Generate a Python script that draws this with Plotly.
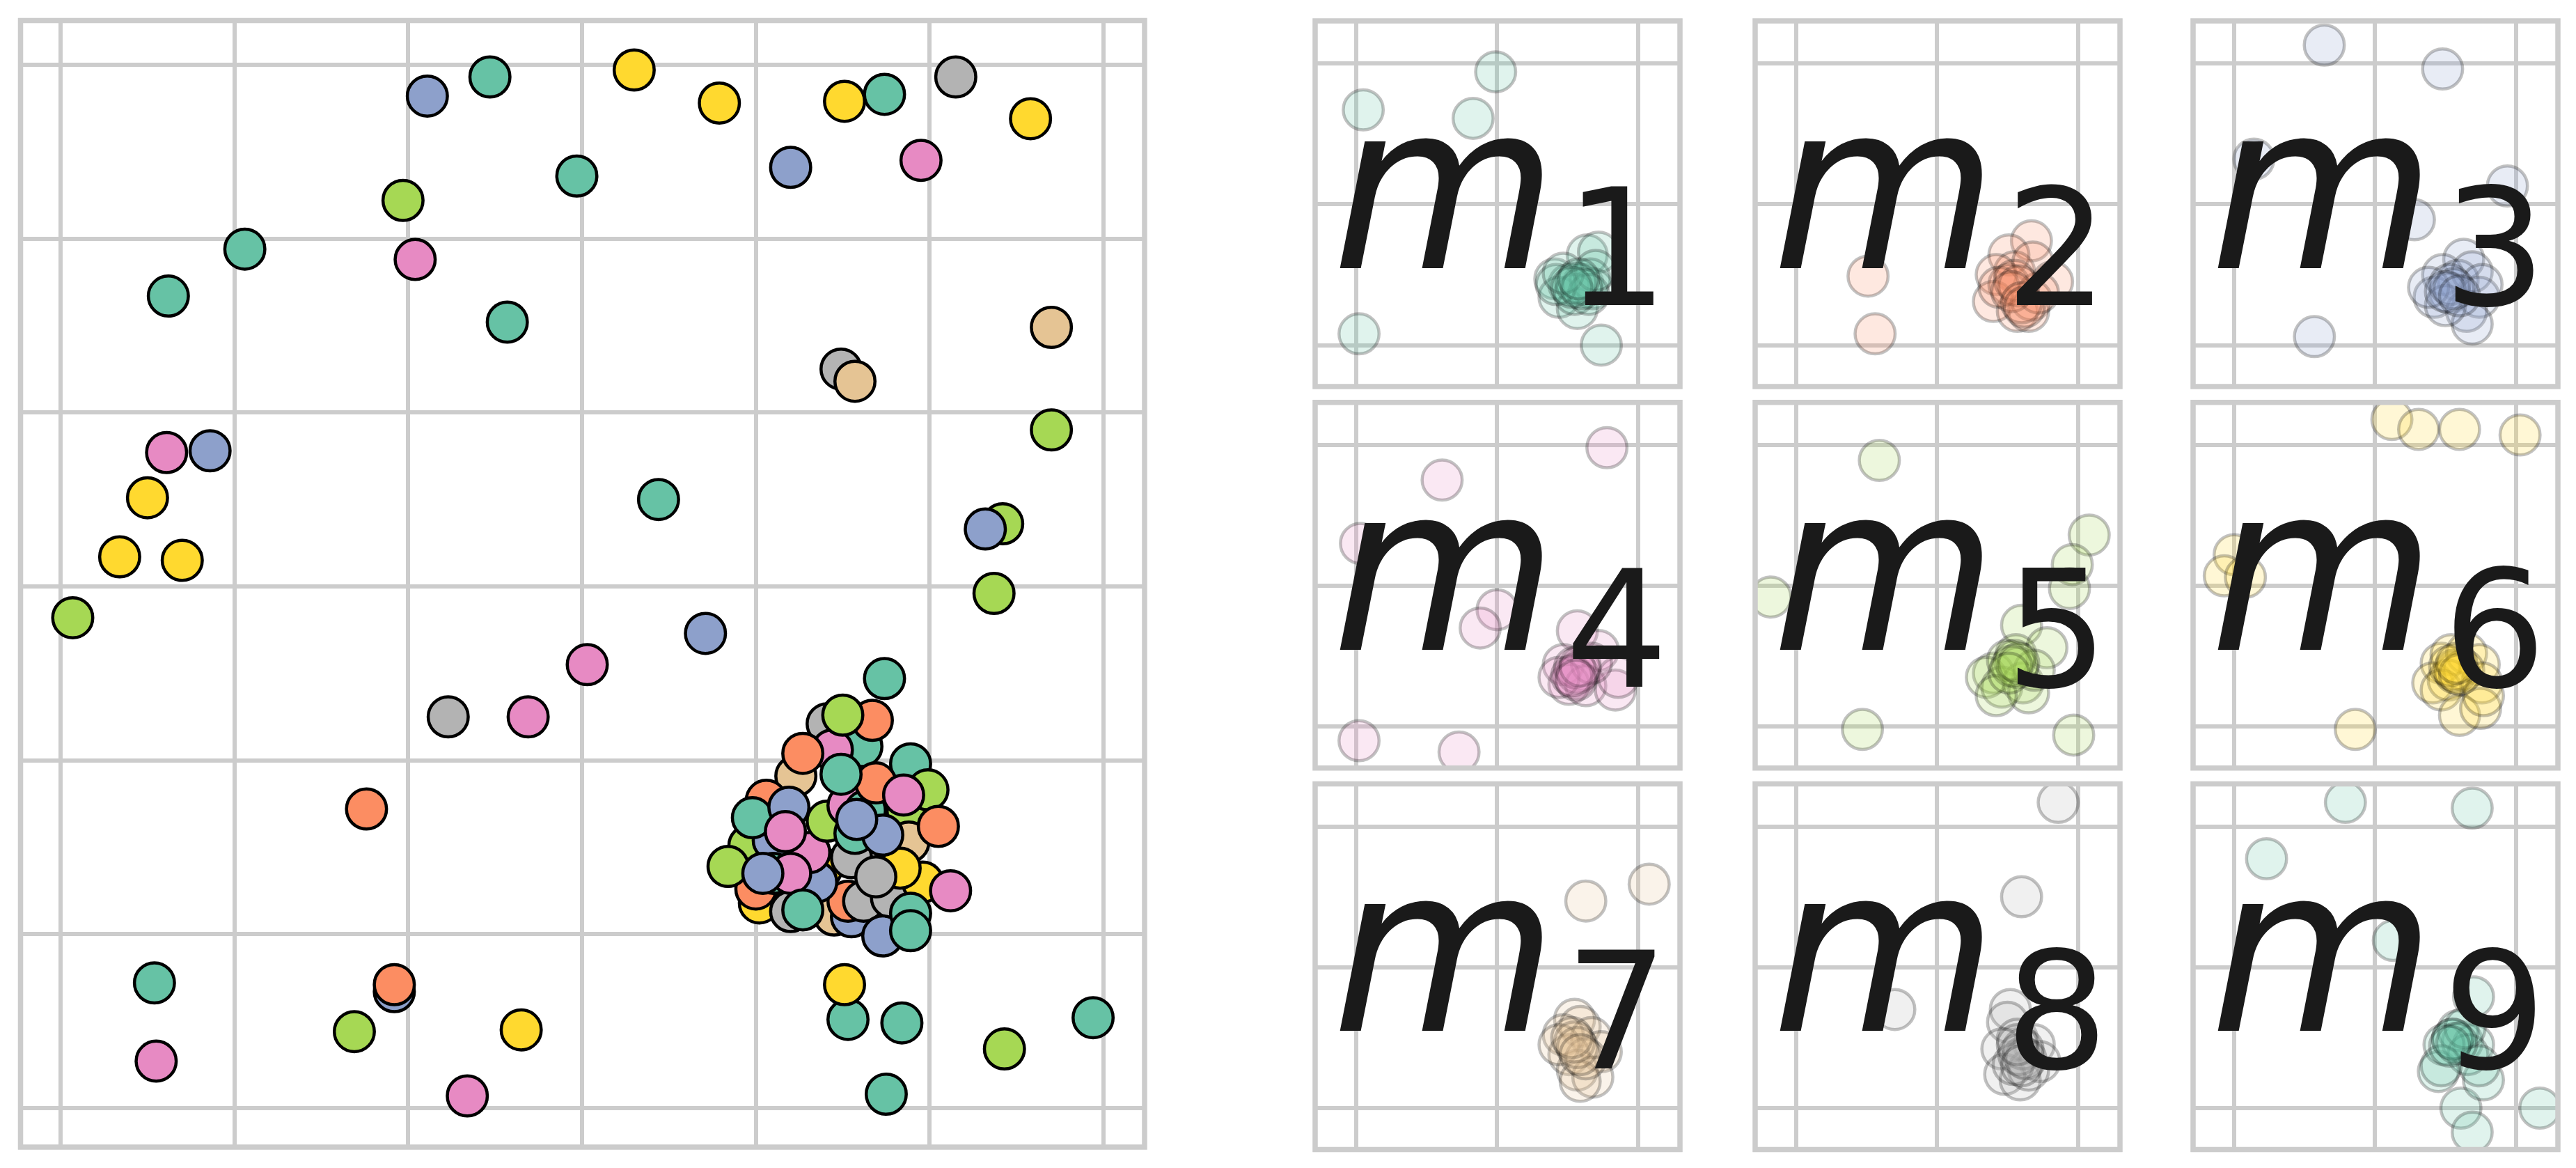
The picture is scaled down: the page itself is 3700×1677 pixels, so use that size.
import plotly.graph_objects as go

# ---------------- data ----------------
palette = ['#66c2a5', '#fc8d62', '#8da0cb', '#e78ac3', '#a6d854',
           '#ffd92f', '#e5c494', '#b3b3b3', '#66c2a5']
labels = ['1', '2', '3', '4', '5', '6', '7', '8', '9']

# main embedding: points listed in drawing order (group index 0..8)
main_x = [2.47, 2.97, 1.06, 0.62, 2.57, 3.44, 4.74, 4.74, 0.54, 4.53, 4.84, 5.94, 4.75,
          3.30, 3.79, 4.51, 5.58, 0.50, 0.34, 0.70, 4.51, 2.65,
          2.11, 4.20, 0.86, 3.71, 1.92,
          4.95, 2.04, 0.61, 3.03, 2.69, 0.55, 2.34,
          1.97, 5.70, 5.42, 5.37, 0.07, 1.69, 5.43,
          5.32,
          5.15, 4.49, 2.23,
          5.70, 4.57,
          1.76, 1.92,
          4.41, 4.54, 4.61, 4.44, 4.23, 4.06, 4.87, 4.88, 4.02, 4.00, 3.96, 4.20, 4.45,
          4.55, 4.53, 4.62, 4.78, 4.96, 4.38, 4.83, 4.35, 4.31, 4.55, 4.10, 4.10, 4.20,
          3.98, 4.19, 4.41, 4.53, 4.63, 4.57, 4.73, 4.89, 4.99, 4.69, 4.67, 4.50, 4.27,
          4.49, 4.85, 5.05, 4.17, 3.84, 4.04, 4.69, 5.12, 4.73, 4.89, 4.89, 4.27, 4.58]
main_y = [5.93, 5.36, 4.94, 4.67, 4.52, 3.50, 5.83, 2.47, 0.72, 0.51, 0.49, 0.52, 0.08,
          5.97, 5.78, 5.79, 5.69, 3.51, 3.17, 3.15, 0.71, 0.45,
          5.82, 5.41, 3.78, 2.73, 0.67,
          5.45, 4.88, 3.77, 2.55, 2.25, 0.27, 0.07,
          5.22, 3.90, 3.36, 2.96, 2.82, 0.44, 0.34,
          3.33,
          5.93, 4.25, 2.25,
          4.49, 4.18,
          1.72, 0.71,
          2.21, 1.98, 2.08, 2.06, 1.91, 1.77, 1.71, 1.53, 1.18, 1.26, 1.51, 1.13, 1.11,
          1.10, 1.19, 1.19, 1.21, 1.30, 1.38, 1.38, 1.30, 1.47, 1.44, 1.54, 1.35, 1.35,
          1.67, 1.73, 1.65, 1.74, 1.71, 1.58, 1.57, 1.98, 1.83, 1.87, 2.23, 2.26, 2.04,
          1.92, 1.80, 1.62, 1.59, 1.39, 1.35, 1.33, 1.25, 0.99, 1.12, 1.02, 1.14, 1.66]
main_group = [0, 0, 0, 0, 0, 0, 0, 0, 0, 0, 0, 0, 0,
              5, 5, 5, 5, 5, 5, 5, 5, 5,
              2, 2, 2, 2, 2,
              3, 3, 3, 3, 3, 3, 3,
              4, 4, 4, 4, 4, 4, 4,
              2,
              7, 7, 7,
              6, 6,
              1, 1,
              7, 6, 0, 3, 6, 1, 4, 6, 5, 1, 4, 7, 6,
              2, 1, 7, 7, 5, 5, 5, 2, 3, 7, 2, 0, 3,
              0, 2, 4, 3, 0, 0, 2, 0, 4, 1, 1, 4, 1,
              0, 3, 1, 3, 4, 2, 7, 3, 2, 8, 8, 8, 2]

# per-component panels
m1_x = [0.05, 0.83, 0.99, 0.02, 1.74, 1.64, 1.72, 1.41, 1.44, 1.51, 1.57, 1.61, 1.66, 1.68, 1.55, 1.65, 1.70, 1.42, 1.47,
        1.56, 1.60, 1.53, 1.58]
m1_y = [1.67, 1.61, 1.94, 0.08, 0.00, 0.64, 0.66, 0.47, 0.34, 0.43, 0.26, 0.43, 0.47, 0.40, 0.36, 0.36, 0.53, 0.43, 0.51,
        0.44, 0.40, 0.41, 0.47]
m2_x = [0.51, 0.56, 1.67, 1.51, 1.55, 1.42, 1.68, 1.82, 1.40, 1.57, 1.67, 1.51, 1.65, 1.72, 1.44,
        1.55, 1.58, 1.53, 1.60, 1.62]
m2_y = [0.49, 0.08, 0.74, 0.64, 0.52, 0.50, 0.59, 0.45, 0.31, 0.24, 0.32, 0.43, 0.24, 0.37, 0.41,
        0.46, 0.42, 0.38, 0.30, 0.27]
m3_x = [0.64, 1.48, 0.14, 1.94, 1.28, 0.57, 1.63, 1.48, 1.59, 1.69, 1.42, 1.53, 1.74, 1.65, 1.69, 1.50, 1.76, 1.38,
        1.53, 1.56, 1.50, 1.60]
m3_y = [2.13, 1.96, 1.32, 1.13, 0.89, 0.06, 0.61, 0.50, 0.46, 0.52, 0.34, 0.37, 0.34, 0.24, 0.15, 0.28, 0.43, 0.41,
        0.43, 0.40, 0.38, 0.35]
m4_x = [1.78, 0.61, 0.03, 1.00, 0.88, 0.02, 0.73, 1.57, 1.72, 1.47, 1.55, 1.59, 1.51, 1.63, 1.84, 1.86, 1.67, 1.44,
        1.55, 1.57, 1.53, 1.59, 1.56]
m4_y = [1.98, 1.75, 1.30, 0.83, 0.70, -0.10, -0.18, 0.68, 0.54, 0.44, 0.35, 0.40, 0.30, 0.29, 0.26, 0.35, 0.45, 0.35,
        0.42, 0.38, 0.36, 0.43, 0.33]
m5_x = [0.59, 2.08, 1.96, 1.94, -0.18, 1.60, 0.47, 1.97, 1.56, 1.78, 1.40, 1.35, 1.46, 1.61, 1.65, 1.50, 1.42, 1.69, 1.57,
        1.55, 1.53, 1.58, 1.51]
m5_y = [1.89, 1.36, 1.15, 0.98, 0.92, 0.72, -0.02, -0.06, 0.51, 0.56, 0.38, 0.35, 0.28, 0.31, 0.24, 0.47, 0.22, 0.40, 0.42,
        0.47, 0.43, 0.45, 0.38]
m6_x = [1.12, 1.31, 1.60, 2.03, 0.00, -0.07, 0.08, 0.86, 1.47, 1.54, 1.65, 1.74, 1.41, 1.52, 1.63, 1.76, 1.47, 1.60, 1.75, 1.57, 1.77,
        1.56, 1.53, 1.60, 1.58]
m6_y = [2.18, 2.11, 2.11, 2.07, 1.22, 1.07, 1.06, -0.02, 0.45, 0.51, 0.52, 0.44, 0.31, 0.33, 0.40, 0.31, 0.26, 0.08, 0.13, 0.38, 0.22,
        0.40, 0.43, 0.37, 0.45]
m7_x = [1.63, 2.08, 1.55, 1.59, 1.47, 1.67, 1.74, 1.51, 1.57, 1.68, 1.59, 1.44, 1.63,
        1.55, 1.57, 1.53, 1.59]
m7_y = [1.47, 1.59, 0.63, 0.58, 0.52, 0.50, 0.40, 0.38, 0.27, 0.22, 0.19, 0.45, 0.35,
        0.47, 0.43, 0.50, 0.38]
m8_x = [1.86, 1.60, 0.70, 1.52, 1.50, 1.57, 1.69, 1.46, 1.61, 1.73, 1.48, 1.59, 1.65, 1.54,
        1.61, 1.58, 1.63, 1.57, 1.60]
m8_y = [2.17, 1.50, 0.70, 0.70, 0.61, 0.49, 0.45, 0.42, 0.36, 0.33, 0.24, 0.20, 0.27, 0.31,
        0.42, 0.38, 0.35, 0.45, 0.30]
m9_x = [0.79, 1.69, 0.23, 1.13, 1.70, 2.17, 1.61, 1.69, 1.45, 1.77, 1.55, 1.62, 1.70, 1.59, 1.66, 1.49, 1.74, 1.64, 1.47,
        1.55, 1.58, 1.53]
m9_y = [2.17, 2.13, 1.77, 1.19, 0.79, 0.00, 0.00, -0.17, 0.26, 0.20, 0.49, 0.47, 0.45, 0.55, 0.38, 0.45, 0.30, 0.57, 0.30,
        0.49, 0.46, 0.44]

main_ticks = [0, 1, 2, 3, 4, 5, 6]
panel_ticks = [0, 1, 2]

panels_x = [m1_x, m2_x, m3_x, m4_x, m5_x, m6_x, m7_x, m8_x, m9_x]
panels_y = [m1_y, m2_y, m3_y, m4_y, m5_y, m6_y, m7_y, m8_y, m9_y]

# ---------------- layout geometry (pixels) ----------------
W, H = 3700, 1677
GRID = '#cccccc'
TEXT = '#1a1a1a'


def rgba(hexcol, a):
    h = hexcol.lstrip('#')
    r, g, b = int(h[0:2], 16), int(h[2:4], 16), int(h[4:6], 16)
    return f'rgba({r},{g},{b},{a})'


def axis(domain, rng, ticks):
    return dict(domain=domain, range=rng, tickvals=ticks, showticklabels=False,
                ticks='', showgrid=True, gridcolor=GRID, gridwidth=5.5,
                zeroline=False, showline=False, fixedrange=True)


fig = go.Figure()
layout = dict(width=W, height=H, margin=dict(l=0, r=0, t=0, b=0, pad=0),
              paper_bgcolor='white', plot_bgcolor='white', showlegend=False,
              shapes=[], annotations=[])

# main axes
mx0, mx1, my0, my1 = 29.5, 1644.0, 29.5, 1647.0
layout['xaxis'] = axis([mx0 / W, mx1 / W], [-0.2303, 6.2362], main_ticks)
layout['yaxis'] = axis([1 - my1 / H, 1 - my0 / H], [-0.2243, 6.2543], main_ticks)
layout['xaxis']['anchor'] = 'y'
layout['yaxis']['anchor'] = 'x'
layout['shapes'].append(dict(type='rect', xref='x domain', yref='y domain',
                             x0=0, x1=1, y0=0, y1=1, layer='above',
                             line=dict(color=GRID, width=7.5)))

fig.add_trace(go.Scatter(
    x=main_x, y=main_y, mode='markers', xaxis='x', yaxis='y',
    marker=dict(size=57.5, color=[palette[g] for g in main_group],
                line=dict(color='black', width=4.5)),
    hoverinfo='skip'))

col_left = [1889.0, 2521.0, 3150.0]
row_top = [30.0, 577.75, 1125.5]
PW, PH = 524.0, 525.0

for k in range(9):
    r, c = divmod(k, 3)
    left, top = col_left[c], row_top[r]
    n = k + 2
    xa, ya = f'xaxis{n}', f'yaxis{n}'
    layout[xa] = axis([left / W, (left + PW) / W], [-0.2916, 2.2986], panel_ticks)
    layout[ya] = axis([1 - (top + PH) / H, 1 - top / H], [-0.2942, 2.3016], panel_ticks)
    layout[xa]['anchor'] = f'y{n}'
    layout[ya]['anchor'] = f'x{n}'
    layout['shapes'].append(dict(type='rect', xref=f'x{n} domain', yref=f'y{n} domain',
                                 x0=0, x1=1, y0=0, y1=1, layer='above',
                                 line=dict(color=GRID, width=7.5)))
    fig.add_trace(go.Scatter(
        x=panels_x[k], y=panels_y[k], mode='markers', xaxis=f'x{n}', yaxis=f'y{n}',
        marker=dict(size=57.5, color=rgba(palette[k], 0.2),
                    line=dict(color='rgba(0,0,0,0.24)', width=4.5)),
        hoverinfo='skip'))
    # label m_k
    layout['annotations'].append(dict(
        text='<i>m</i>', xref='paper', yref='paper',
        x=(left + 23) / W, y=1 - (top + 239.8) / H, xanchor='left', yanchor='middle',
        showarrow=False, borderpad=0,
        font=dict(family='DejaVu Sans', size=333, color=TEXT)))
    layout['annotations'].append(dict(
        text=labels[k], xref='paper', yref='paper',
        x=(left + 358) / W, y=1 - (top + 327.9) / H, xanchor='left', yanchor='middle',
        showarrow=False, borderpad=0,
        font=dict(family='DejaVu Sans', size=233, color=TEXT)))

fig.update_layout(**layout)
fig.write_html('out.html')
